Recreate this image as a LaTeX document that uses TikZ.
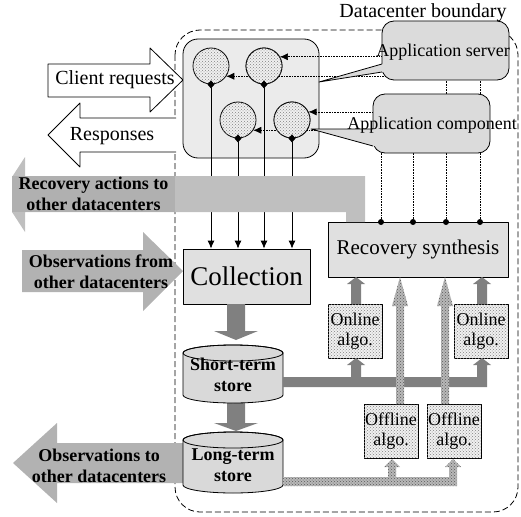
\documentclass[tikz,border=0pt]{standalone}
\usepackage{fontspec}
\setmainfont{Liberation Serif}
\usetikzlibrary{arrows.meta,patterns}

\begin{document}
\begin{tikzpicture}[x=1pt,y=-1pt,line join=round,line width=0.8pt,
		txt/.style={font=\fontsize{20}{24}\selectfont,inner sep=0pt},
		btxt/.style={font=\fontsize{18}{21}\selectfont\bfseries,align=center,inner sep=0pt},
		stipple/.style={fill=black!6,postaction={pattern=crosshatch dots,pattern color=black!50}},
		cell/.style={circle,draw,stipple,minimum size=36pt,inner sep=0pt},
		block/.style={draw,fill=black!12,inner sep=0pt},
		algo/.style={draw,stipple,inner sep=0pt,minimum width=54pt,minimum height=54pt,align=center,font=\fontsize{18}{20}\selectfont},
		bubble/.style={draw,fill=black!14,rounded corners=12pt,inner sep=0pt},
		ptr/.style={densely dotted,line width=0.6pt,-{Latex[length=8pt,width=7pt]}},
		feed/.style={{Diamond[length=8pt,width=7pt]}-{Latex[length=8pt,width=7pt]},shorten <=-4pt},
		darkarr/.style={fill=black!50},
		patarr/.style={fill=black!28,postaction={pattern=crosshatch dots,pattern color=black!65}}]
	\useasboundingbox (0,0) rectangle (521,516);
	
	% datacenter boundary
	\draw[dash pattern=on 6pt off 3pt,rounded corners=25pt] (175,30) rectangle (518,512);
	\node[txt] (dcb) at (423,13) {Datacenter boundary};
	
	% client side
	\draw[fill=white] (48,64) -- (150,64) -- (150,48) -- (183,80) -- (150,112) -- (150,97) -- (48,97) -- cycle;
	\node[txt] (req) at (115,80) {Client requests};
	\fill[white] (176,118) -- (80,118) -- (80,103) -- (48,135) -- (80,167) -- (80,152) -- (176,152) -- cycle;
	\draw (176,118) -- (80,118) -- (80,103) -- (48,135) -- (80,167) -- (80,152) -- (176,152);
	\node[txt] (resp) at (112,136) {Responses};
	
	% application
	\node[draw,fill=black!8,rounded corners=15pt,minimum width=136pt,minimum height=119pt] (comp) at (251,98.5) {};
	
	% boxes
	\node[block,minimum width=180pt,minimum height=55pt,font=\fontsize{21}{24}\selectfont] (rs) at (418,249.5) {Recovery synthesis};
	\node[block,minimum width=127pt,minimum height=55pt,font=\fontsize{27}{30}\selectfont] (coll) at (246.5,276.5) {Collection};
	\node[algo] (on1) at (355,331) {Online\\algo.};
	\node[algo] (on2) at (481,331) {Online\\algo.};
	\node[algo] (off1) at (391,431.5) {Offline\\algo.};
	\node[algo] (off2) at (454,431.5) {Offline\\algo.};
	
	\coordinate (p1) at (381,222);
	\coordinate (p2) at (413,222);
	\coordinate (p3) at (446,222);
	\coordinate (p4) at (480,222);
	
	\node[cell] (c1) at (211,66) {};
	\node[cell] (c2) at (264,66) {};
	\node[cell] (c3) at (238,120) {};
	\node[cell] (c4) at (292,120) {};
	
	% control paths
	\draw[ptr] (p1) |- (c3.-34);
	\draw[ptr] (p2) |- (c4.26);
	\draw[ptr] (p3) |- (c1.-34);
	\draw[ptr] (p4) |- (c2.30);
	\node[cell] at (c2) {};
	\node[cell] at (c4) {};
	
	% callouts
	\node[bubble,minimum width=127pt,minimum height=59pt] (srv) at (445.5,50.5) {};
	\fill[black!14] (319,82) -- (382,64) -- (386,64) -- (386,72) -- (382,72) -- cycle;
	\draw (382,64) -- (319,82) -- (382,72);
	\node[txt,font=\fontsize{18}{20}\selectfont] (srvt) at (443,52) {Application server};
	\node[bubble,minimum width=117pt,minimum height=59pt] (cpt) at (431.5,123.5) {};
	\fill[black!14] (311,129) -- (373,129) -- (377,129) -- (377,146) -- (373,146) -- cycle;
	\draw (373,129) -- (311,129) -- (373,146);
	\node[txt,font=\fontsize{18}{20}\selectfont] (cptt) at (432,125) {Application component};
	
	% monitoring
	\foreach \c in {c1,c2,c3,c4}
	\draw[feed] (\c.south) -- (\c.south |- coll.north);
	
	% recovery actions
	\fill[black!25] (12,177) -- (25,157) -- (25,176) -- (365,176) -- (365,222) -- (346,222) -- (346,212)
	-- (25,212) -- (25,232) -- (12,212) -- cycle;
	\node[btxt,fill=black!31,minimum width=163pt,minimum height=36pt] (ract) at (93.5,194) {Recovery actions to\\other datacenters};
	
	% observations
	\fill[black!30] (22,250) -- (143,250) -- (143,232) -- (183,271) -- (143,311) -- (143,292) -- (22,292) -- cycle;
	\node[btxt] (obin) at (101,272) {Observations from\\other datacenters};
	\fill[black!30] (183,443) -- (57,443) -- (57,423) -- (13,463) -- (57,503) -- (57,483) -- (183,483) -- cycle;
	\node[btxt] (obout) at (99,466) {Observations to\\other datacenters};
	
	% stores
	\fill[darkarr] (227,304) -- (245,304) -- (245,331) -- (258,331) -- (236,340) -- (214,331) -- (227,331) -- cycle;
	\fill[darkarr] (227,400) -- (245,400) -- (245,423) -- (258,423) -- (236,431) -- (214,423) -- (227,423) -- cycle;
	\filldraw[fill=black!15] (183,353) -- (183,395) arc (180:0:50 and 8) -- (283,353) arc (0:-180:50 and 8) -- cycle;
	\draw (233,353) ellipse (50 and 8);
	\node[btxt] (sts) at (233,375) {Short-term\\store};
	\filldraw[fill=black!15] (183,440) -- (183,485) arc (180:0:50 and 8) -- (283,440) arc (0:-180:50 and 8) -- cycle;
	\draw (233,440) ellipse (50 and 8);
	\node[btxt] (lts) at (233,465) {Long-term\\store};
	
	% data to algorithms
	\fill[darkarr] (283,377) -- (351,377) -- (351,365) -- (347,365) -- (356,358) -- (365,365) -- (361,365) -- (361,377)
	-- (477,377) -- (477,365) -- (473,365) -- (482,358) -- (491,365) -- (487,365) -- (487,387) -- (283,387) -- cycle;
	\path[patarr] (283,477) -- (388,477) -- (388,467) -- (384,467) -- (392,459) -- (400,467) -- (396,467) -- (396,477)
	-- (449,477) -- (449,467) -- (445,467) -- (453,459) -- (461,467) -- (457,467) -- (457,486) -- (283,486) -- cycle;
	
	% algorithms to synthesis
	\fill[darkarr] (351,304) -- (351,284) -- (347,284) -- (356,277) -- (365,284) -- (361,284) -- (361,304) -- cycle;
	\fill[darkarr] (477,304) -- (477,284) -- (473,284) -- (482,277) -- (491,284) -- (487,284) -- (487,304) -- cycle;
	\path[patarr] (396,404) -- (396,306) -- (392,306) -- (400,277) -- (408,306) -- (404,306) -- (404,404) -- cycle;
	\path[patarr] (441,404) -- (441,306) -- (437,306) -- (445,277) -- (453,306) -- (449,306) -- (449,404) -- cycle;
	
	\foreach \p in {p1,p2,p3,p4}
	\fill (\p) circle (3);
\end{tikzpicture}
\end{document}
